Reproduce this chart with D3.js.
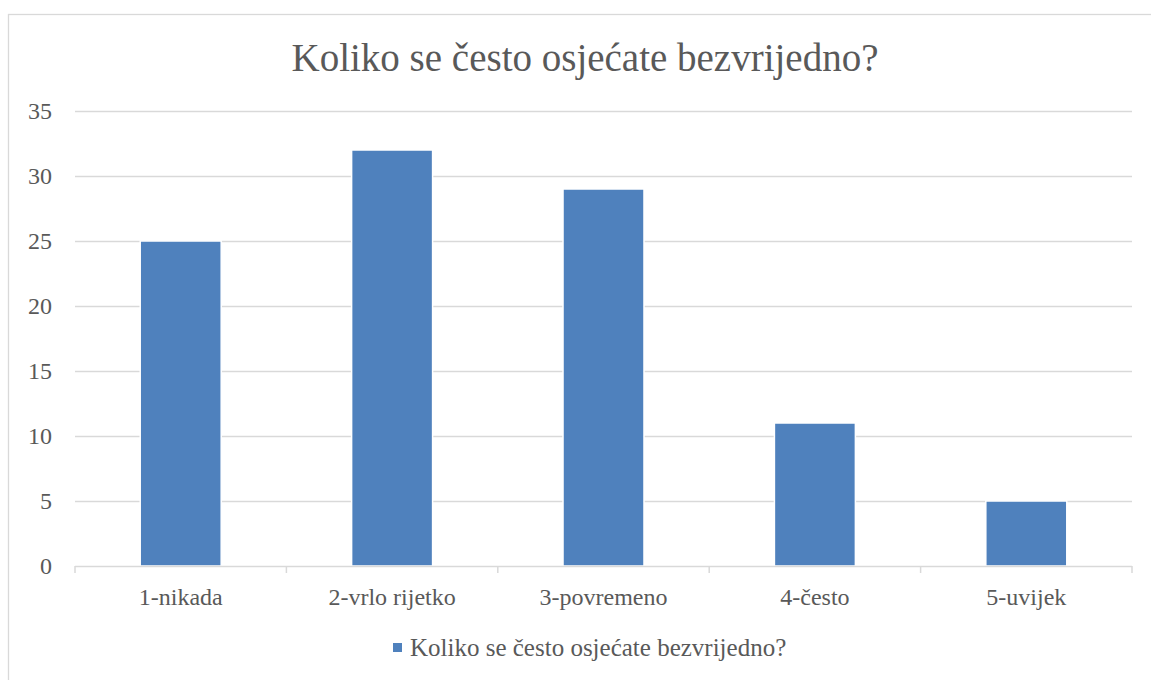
<!DOCTYPE html>
<html><head><meta charset="utf-8">
<script src="https://cdn.jsdelivr.net/npm/d3@7"></script>
<style>body{margin:0;background:#fff;} svg{display:block;}</style>
</head><body>
<script>
const title = "Koliko se često osjećate bezvrijedno?";
const categories = ["1-nikada", "2-vrlo rijetko", "3-povremeno", "4-često", "5-uvijek"];
const values = [25, 32, 29, 11, 5];
const yTicks = [0, 5, 10, 15, 20, 25, 30, 35];
const seriesName = "Koliko se često osjećate bezvrijedno?";

(function () {
const W = 1151, H = 680;
const font = "'Liberation Serif', 'DejaVu Serif', serif";
const textColor = "#595959", gridColor = "#d9d9d9", barColor = "#4f81bd";
const svg = d3.select("body").append("svg").attr("width", W).attr("height", H);

svg.append("rect").attr("x", 8.5).attr("y", 14.5).attr("width", 1160).attr("height", 700)
  .attr("fill", "#fff").attr("stroke", gridColor).attr("stroke-width", 1.3);

const pLeft = 75, pRight = 1132, pTop = 111, pBottom = 566;
const x = d3.scaleBand().domain(categories).range([pLeft, pRight]).padding(0);
const y = d3.scaleLinear().domain([0, 35]).range([pBottom, pTop]);

svg.append("text").attr("x", 585).attr("y", 71).attr("text-anchor", "middle")
  .attr("font-family", font).attr("font-size", 39).attr("fill", textColor).text(title);

const grid = svg.append("g");
grid.selectAll("line").data(yTicks.filter(d => d > 0)).join("line")
  .attr("x1", pLeft).attr("x2", pRight).attr("y1", d => Math.round(y(d)) + 0.5).attr("y2", d => Math.round(y(d)) + 0.5)
  .attr("stroke", gridColor).attr("stroke-width", 1.5);

const yAxis = d3.axisLeft(y).tickValues(yTicks).tickSize(0).tickPadding(0);
const ya = svg.append("g").attr("transform", `translate(52,0)`).call(yAxis);
ya.select(".domain").remove();
ya.selectAll("text").attr("font-family", font).attr("font-size", 24).attr("fill", textColor).attr("dy", "0.33em");

const bw = x.bandwidth() * 0.383;
svg.append("g").selectAll("rect").data(values).join("rect")
  .attr("x", (d, i) => x(categories[i]) + x.bandwidth() / 2 - bw / 2)
  .attr("y", d => y(d))
  .attr("width", bw)
  .attr("height", d => pBottom - y(d))
  .attr("fill", barColor).attr("stroke", "#fff").attr("stroke-width", 1.5);

const xAxis = d3.axisBottom(x).tickSize(0).tickPadding(0);
const xa = svg.append("g").attr("transform", `translate(0,${pBottom + 0.5})`).call(xAxis);
xa.select(".domain").attr("stroke", gridColor).attr("stroke-width", 1.5).attr("d", `M${pLeft},0H${pRight}`);
xa.selectAll("text").attr("font-family", font).attr("font-size", 24).attr("fill", textColor).attr("dy", 0).attr("y", 38);
const bounds = categories.map(c => x(c)).concat([pRight]);
svg.append("g").selectAll("line").data(bounds).join("line")
  .attr("x1", d => d).attr("x2", d => d).attr("y1", pBottom).attr("y2", pBottom + 7)
  .attr("stroke", gridColor).attr("stroke-width", 1.5);

const lg = svg.append("g");
lg.append("rect").attr("x", 393).attr("y", 643).attr("width", 9).attr("height", 9).attr("fill", barColor);
lg.append("text").attr("x", 410).attr("y", 656).attr("font-family", font).attr("font-size", 25)
  .attr("fill", textColor).text(seriesName);
})();
</script>
</body></html>
